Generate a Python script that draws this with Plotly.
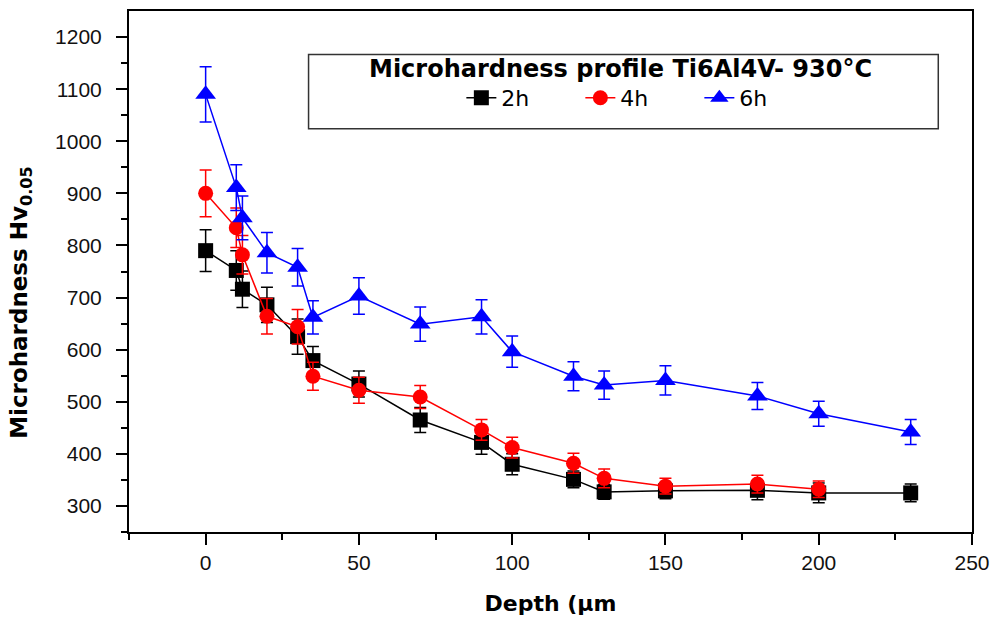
import plotly.graph_objects as go

# ---- data ----
depth_2h = [0, 10, 12, 20, 30, 35, 50, 70, 90, 100, 120, 130, 150, 180, 200, 230]
hv_2h = [790, 752, 716, 686, 625, 579, 534, 465, 422, 380, 351, 327, 329, 330, 325, 325]
err_2h = [40, 38, 35, 34, 34, 27, 25, 24, 23, 20, 16, 14, 15, 18, 19, 17]

depth_4h = [0, 10, 12, 20, 30, 35, 50, 70, 90, 100, 120, 130, 150, 180, 200]
hv_4h = [900, 834, 782, 664, 644, 549, 522, 509, 446, 412, 382, 353, 338, 342, 332]
err_4h = [45, 38, 37, 34, 33, 27, 25, 22, 20, 20, 19, 18, 15, 17, 16]

depth_6h = [0, 10, 12, 20, 30, 35, 50, 70, 90, 100, 120, 130, 150, 180, 200, 230]
hv_6h = [1090, 911, 853, 786, 758, 662, 703, 649, 663, 596, 549, 532, 541, 511, 477, 442]
err_6h = [53, 44, 42, 39, 36, 32, 35, 33, 33, 30, 28, 27, 28, 26, 24, 24]

series_names = ["2h", "4h", "6h"]
x_ticks = [0, 50, 100, 150, 200, 250]
y_ticks = [300, 400, 500, 600, 700, 800, 900, 1000, 1100, 1200]

legend_title = "Microhardness profile Ti6Al4V- 930°C"
x_title = "Depth (µm"
y_title = "Microhardness Hv<sub>0.05</sub>"

TICK_FONT = dict(family="Liberation Sans, Arial, sans-serif", size=21, color="#111")
BOLD = "DejaVu Sans, Verdana, sans-serif"

fig = go.Figure()
styles = [
    ("black", "square", 15),
    ("red", "circle", 15),
    ("blue", "triangle-up", 18),
]
for (xs, ys, es, name), (col, sym, sz) in zip(
    [(depth_2h, hv_2h, err_2h, series_names[0]),
     (depth_4h, hv_4h, err_4h, series_names[1]),
     (depth_6h, hv_6h, err_6h, series_names[2])], styles):
    fig.add_trace(go.Scatter(
        x=xs, y=ys, name=name, mode="lines+markers",
        line=dict(color=col, width=1.5),
        marker=dict(color=col, symbol=sym, size=sz, line=dict(width=0)),
        error_y=dict(type="data", array=es, visible=True, color=col,
                     thickness=1.5, width=6),
    ))

fig.update_layout(
    width=999, height=621,
    margin=dict(l=129, r=20, t=9, b=85),
    paper_bgcolor="white", plot_bgcolor="white",
    showlegend=True,
    legend=dict(
        orientation="h",
        x=0.606, xanchor="center", y=0.833, yanchor="middle",
        bgcolor="rgba(0,0,0,0)", borderwidth=0,
        font=dict(family=BOLD, size=22, color="black"),
        itemsizing="trace",
        entrywidth=74, entrywidthmode="pixels",
    ),
    shapes=[dict(type="rect", xref="paper", yref="paper",
                 x0=0.213, x1=0.96, y0=0.774, y1=0.9165,
                 line=dict(color="#333", width=1.5), fillcolor="rgba(0,0,0,0)")],
    annotations=[
        dict(text="<b>" + y_title + "</b>", xref="paper", yref="paper",
             x=-0.128, y=0.44, textangle=-90, showarrow=False,
             xanchor="center", yanchor="middle",
             font=dict(family=BOLD, size=23, color="black")),
        dict(text="<b>" + legend_title + "</b>", xref="paper", yref="paper",
             x=0.5835, y=0.888, showarrow=False,
             xanchor="center", yanchor="middle",
             font=dict(family=BOLD, size=24, color="black")),
    ],
)

fig.update_xaxes(
    range=[-25, 250], tickvals=x_ticks, ticks="outside", ticklen=11, tickwidth=2,
    tickcolor="black", showline=True, linecolor="black", linewidth=2, mirror=True,
    showgrid=False, zeroline=False, tickfont=TICK_FONT,
    minor=dict(tickvals=[-25, 25, 75, 125, 175, 225], ticks="outside",
               ticklen=6, tickwidth=2, tickcolor="black"),
    title=dict(text="<b>" + x_title + "</b>", standoff=22,
               font=dict(family=BOLD, size=22, color="black")),
)
fig.update_yaxes(
    range=[250, 1250], tickvals=y_ticks, ticks="outside", ticklen=11, tickwidth=2,
    tickcolor="black", showline=True, linecolor="black", linewidth=2, mirror=True,
    showgrid=False, zeroline=False, tickfont=TICK_FONT, ticklabelstandoff=10,
    minor=dict(tickvals=[250, 350, 450, 550, 650, 750, 850, 950, 1050, 1150],
               ticks="outside", ticklen=6, tickwidth=2, tickcolor="black"),
)

fig.write_html("out.html")
